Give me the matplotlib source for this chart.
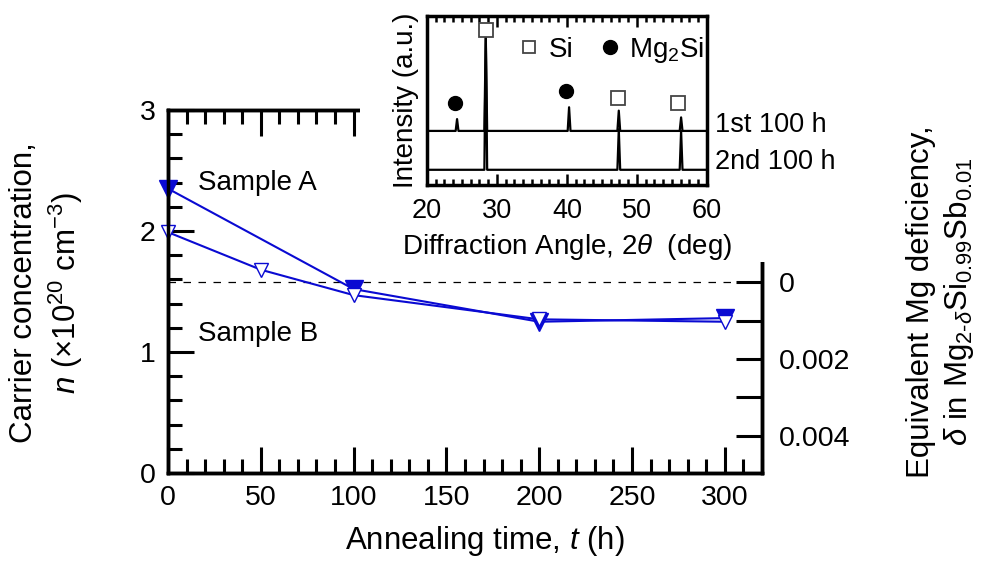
import matplotlib
matplotlib.use('Agg')
import matplotlib.pyplot as plt
from matplotlib.lines import Line2D
from matplotlib.patches import Rectangle
from matplotlib.ticker import MultipleLocator

plt.rcParams['font.family'] = ['Liberation Sans', 'DejaVu Sans']
plt.rcParams['mathtext.fontset'] = 'custom'
plt.rcParams['mathtext.rm'] = 'Liberation Sans'
plt.rcParams['mathtext.it'] = 'Liberation Sans:italic'
plt.rcParams['mathtext.bf'] = 'Liberation Sans:bold'

# carrier concentration vs annealing time (x1e20 cm^-3)
t_a = [0, 100, 200, 300]
n_a = [2.35, 1.52, 1.25, 1.28]
t_b = [0, 50, 100, 200, 300]
n_b = [1.99, 1.68, 1.47, 1.27, 1.25]

# n at delta = 0 and change of n per unit Mg deficiency
n_stoich = 1.575
n_per_delta = 316.7
delta_ticks = [0, 0.001, 0.002, 0.003, 0.004]
delta_labels = ['0', '', '0.002', '', '0.004']

# XRD traces (2theta in deg, intensity in a.u.)
xrd_angle_1 = [20, 24.1, 24.3, 24.5, 28.2, 28.4, 28.6, 40.1, 40.3, 40.5,
               47.2, 47.4, 47.6, 56.1, 56.3, 56.5, 60]
xrd_int_1 = [3.2, 3.2, 3.9, 3.2, 3.2, 8.9, 3.2, 3.2, 4.6, 3.2,
             3.2, 4.4, 3.2, 3.2, 4.0, 3.2, 3.2]
xrd_angle_2 = [20, 28.2, 28.4, 28.6, 47.2, 47.4, 47.6, 56.1, 56.3, 56.5, 60]
xrd_int_2 = [0.9, 0.9, 8.9, 0.9, 0.9, 3.3, 0.9, 0.9, 3.2, 0.9, 0.9]
si_angle = [28.4, 47.3, 55.9]
si_mark = [9.2, 5.15, 4.85]
mg2si_angle = [24.0, 39.9]
mg2si_mark = [4.85, 5.55]

blue = '#0a0ad2'

fig = plt.figure(figsize=(9.92, 5.63), dpi=100)
ax = fig.add_axes([0.1694, 0.1599, 0.5986, 0.6447])

ax.axhline(n_stoich, color='k', lw=0.9, dashes=(6, 6), zorder=1)
ax.plot(t_a, n_a, color=blue, lw=1.5, marker='v', ms=13.5, mfc=blue, mec=blue,
        clip_on=False, zorder=3)
ax.plot(t_b, n_b, color=blue, lw=1.5, marker='v', ms=9.5, mfc='white', mec=blue,
        mew=1.0, clip_on=False, zorder=4)

ax.text(16, 2.4, 'Sample A', fontsize=20, va='center')
ax.text(16, 1.15, 'Sample B', fontsize=20, va='center')

ax.set_xlim(0, 320)
ax.set_ylim(0, 3)
ax.xaxis.set_major_locator(MultipleLocator(50))
ax.xaxis.set_minor_locator(MultipleLocator(10))
ax.yaxis.set_major_locator(MultipleLocator(1))
ax.yaxis.set_minor_locator(MultipleLocator(0.2))
ax.tick_params(which='both', direction='in', top=True, right=False, width=2.2,
               labelsize=20.5)
ax.tick_params(which='major', length=19, pad=9)
ax.tick_params(which='minor', length=10)
for s in ax.spines.values():
    s.set_linewidth(2.5)

# Mg deficiency axis on the right
ax2 = ax.twinx()
ax2.set_ylim(n_stoich / n_per_delta, (n_stoich - 3) / n_per_delta)
ax2.set_yticks(delta_ticks)
ax2.set_yticklabels(delta_labels)
ax2.tick_params(direction='in', length=19, width=2.2, labelsize=20.5, pad=12)
for s in ax2.spines.values():
    s.set_linewidth(2.5)

fig.text(47 / 992, 1 - 293 / 563,
         'Carrier concentration,\n$n$ (\u00d710$^{20}$ cm$^{-3}$)',
         rotation=90, ha='center', va='center', fontsize=22.5,
         multialignment='center', linespacing=1.25)
fig.text(941 / 992, 1 - 302 / 563,
         'Equivalent Mg deficiency,\n'
         r'$\delta$ in Mg$_{2\text{-}\delta}$Si$_{0.99}$Sb$_{0.01}$',
         rotation=90, ha='center', va='center', fontsize=22.5,
         multialignment='center', linespacing=1.25)
fig.text(485 / 992, 1 - 541 / 563, 'Annealing time, $t$ (h)', ha='center',
         va='center', fontsize=22.5)

# blank out the corner behind the inset
fig.add_artist(Rectangle((0.363, 1 - 262 / 563), 0.5, 0.5,
                         transform=fig.transFigure, facecolor='white',
                         edgecolor='none', zorder=5))

# XRD inset
ax_in = fig.add_axes([0.4304, 0.6714, 0.2823, 0.3002])
ax_in.set_zorder(10)
ax_in.plot(xrd_angle_1, xrd_int_1, color='k', lw=1.6)
ax_in.plot(xrd_angle_2, xrd_int_2, color='k', lw=1.6)
ax_in.plot(si_angle, si_mark, ls='none', marker='s', ms=10, mfc='white',
           mec='#444444', mew=1.3, clip_on=False)
ax_in.plot(mg2si_angle, mg2si_mark, ls='none', marker='o', ms=10, mfc='k',
           mec='k', clip_on=False)
ax_in.text(61.1, 3.55, '1st 100 h', fontsize=19.5, va='center', clip_on=False)
ax_in.text(61.1, 1.36, '2nd 100 h', fontsize=19.5, va='center', clip_on=False)

handles = [Line2D([], [], ls='none', marker='s', ms=9, mfc='white', mec='#444444',
                  mew=1.3),
           Line2D([], [], ls='none', marker='o', ms=10, mfc='k', mec='k')]
ax_in.legend(handles, ['Si', 'Mg$_2$Si'], ncol=2, loc='center right',
             bbox_to_anchor=(0.99, 0.8), frameon=False, fontsize=20,
             handlelength=0.8, handletextpad=0.3, columnspacing=0.9,
             borderpad=0, borderaxespad=0)

ax_in.set_xlim(20, 60)
ax_in.set_ylim(0, 10)
ax_in.xaxis.set_major_locator(MultipleLocator(10))
ax_in.xaxis.set_minor_locator(MultipleLocator(1.25))
ax_in.set_yticks([])
ax_in.tick_params(axis='x', which='both', direction='in', top=True, width=1.8,
                  labelsize=19.5, pad=9)
ax_in.tick_params(axis='x', which='major', length=8)
ax_in.tick_params(axis='x', which='minor', length=4.5)
for s in ax_in.spines.values():
    s.set_linewidth(2.5)
ax_in.set_xlabel(r'Diffraction Angle, 2$\theta$  (deg)', fontsize=20, labelpad=6)
ax_in.set_ylabel('Intensity (a.u.)', fontsize=20, labelpad=6)

fig.savefig('out.png', dpi=100)
